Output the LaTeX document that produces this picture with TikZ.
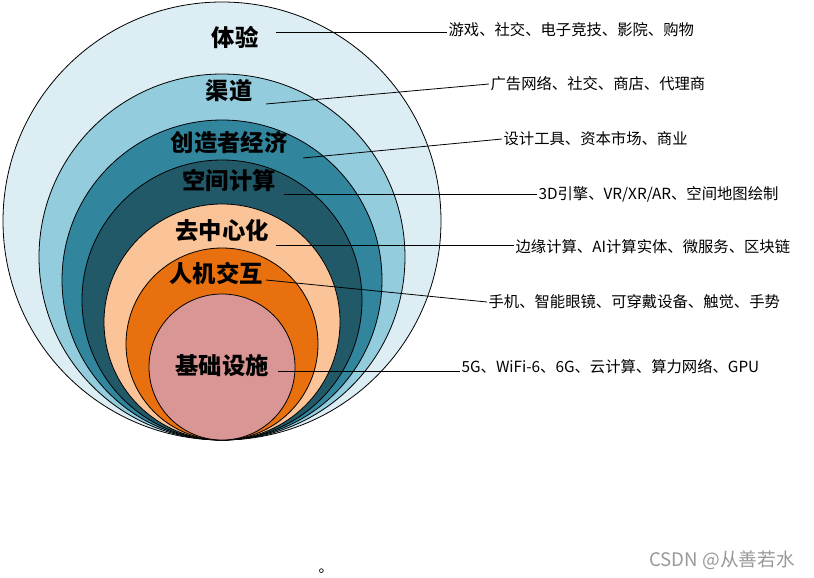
\documentclass[tikz,border=0pt]{standalone}
\usepackage{fontspec}
\newfontfamily\cjk{Noto Sans CJK SC}
\begin{document}
\begin{tikzpicture}[x=0.75pt,y=-0.75pt,
  ring/.style={draw=black,line width=0.6pt},
  lab/.style={font=\cjk\fontsize{17.5}{17.5}\selectfont\bfseries},
  txt/.style={font=\cjk\fontsize{11.5}{11.5}\selectfont,anchor=west,inner sep=1pt},
  lead/.style={draw=black,line width=0.6pt}]
\useasboundingbox (0,0) rectangle (814,578);
\definecolor{c1}{HTML}{DCEEF3}\definecolor{c2}{HTML}{93CDDD}\definecolor{c3}{HTML}{31859C}
\definecolor{c4}{HTML}{215968}\definecolor{c5}{HTML}{FAC498}\definecolor{c6}{HTML}{E8700F}\definecolor{c7}{HTML}{D99694}
\filldraw[ring,fill=c1] (222,221) circle (219);
\filldraw[ring,fill=c2] (222,257) circle (183);
\filldraw[ring,fill=c3] (222,280) circle (160);
\filldraw[ring,fill=c4] (222,300) circle (140);
\filldraw[ring,fill=c5] (222,322) circle (118);
\filldraw[ring,fill=c6] (222,344) circle (96);
\filldraw[ring,fill=c7] (222,367) circle (73);
\node[lab] (l1) at (235,37) {体验};
\node[lab] (l2) at (229,91) {渠道};
\node[lab] (l3) at (229,143) {创造者经济};
\node[lab] (l4) at (229,181) {空间计算};
\node[lab] (l5) at (222,231) {去中心化};
\node[lab] (l6) at (216,273) {人机交互};
\node[lab] (l7) at (222,366) {基础设施};
\coordinate (s1) at (276,32); \coordinate (s2) at (266,104); \coordinate (s3) at (303,158);
\coordinate (s4) at (284,194); \coordinate (s5) at (276,245); \coordinate (s6) at (266,280);
\coordinate (s7) at (278,371);
\node[txt] (t1) at (447,30) {游戏、社交、电子竞技、影院、购物};
\node[txt] (t2) at (489,84) {广告网络、社交、商店、代理商};
\node[txt] (t3) at (502,139) {设计工具、资本市场、商业};
\node[txt] (t4) at (537,194) {3D引擎、VR/XR/AR、空间地图绘制};
\node[txt] (t5) at (514,247) {边缘计算、AI计算实体、微服务、区块链};
\node[txt] (t6) at (487,302) {手机、智能眼镜、可穿戴设备、触觉、手势};
\node[txt] (t7) at (460,367) {5G、WiFi-6、6G、云计算、算力网络、GPU};
\draw[lead] (s1) -- (t1.west|-s1);
\draw[lead] (s2) -- (t2.west);
\draw[lead] (s3) -- (t3.west);
\draw[lead] (s4) -- (t4.west);
\draw[lead] (s5) -- (t5.west|-s5);
\draw[lead] (s6) -- (t6.west);
\draw[lead] (s7) -- (t7.west|-s7);
\node[font=\cjk\fontsize{11}{11}\selectfont] (dot) at (326,571) {。};
\node[font=\cjk\fontsize{14}{14}\selectfont,text=gray!80] (wm) at (722,560) {CSDN @从善若水};
\end{tikzpicture}
\end{document}
